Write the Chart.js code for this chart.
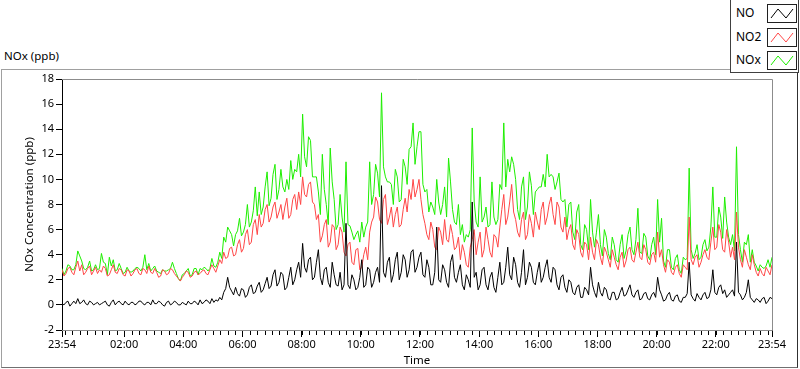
<!DOCTYPE html>
<html>
<head>
<meta charset="utf-8">
<script src="https://cdn.jsdelivr.net/npm/chart.js@4.4.1/dist/chart.umd.min.js"></script>
<style>
  body { margin: 0; background: #fff; }
  #wrap { position: relative; width: 800px; height: 369px; overflow: hidden; font-family: "Noto Sans", sans-serif; color: #000; }
  #frame { position: absolute; left: 1px; top: 69px; width: 795px; height: 297px; border: 1px solid #a0a0a0; border-right-color: #303030; border-bottom-color: #707070; }
  #title { position: absolute; left: 4px; top: 48px; font-size: 11.5px; }
  #chart { position: absolute; left: 0; top: 0; }
  #legend { position: absolute; left: 730px; top: -1px; width: 67px; height: 72px; border: 1px solid #404040; background: #fff; font-size: 12px; }
  .row { position: absolute; left: 5px; height: 18px; line-height: 18px; }
  .row svg { position: absolute; left: 31px; top: 0; }
</style>
</head>
<body>
<div id="wrap">
  <div id="frame"></div>
  <div id="title">NOx (ppb)</div>
  <canvas id="chart" width="800" height="369"></canvas>
  <div id="legend"></div>
</div>
<script>
// samples every 4 minutes starting at 23:54
const SAMPLE_STEP = 4;

const NO = [
  0.1,0.0, 0.2,0.3, -0.1,0.1, 0.3,0.1, 0.5,0.1, 0.2,0.4, 0.1,0.0, 0.3,0.2, 0.0,0.1, 0.2,0.0,
  0.1,0.2, 0.3,0.0, -0.1,0.2, 0.4,0.0, 0.2,0.3, 0.1,0.0, 0.3,0.1, 0.0,0.2, 0.2,0.0, 0.1,0.3,
  0.3,0.1, 0.0,0.2, 0.2,0.0, 0.4,0.1, 0.1,0.3, 0.2,0.0, -0.1,0.2, 0.3,0.0, 0.1,0.3, 0.2,0.0,
  0.0,0.2, 0.1,0.0, 0.3,0.1, 0.1,0.3, 0.2,0.0, 0.4,0.1, 0.2,0.4, 0.3,0.1, 0.5,0.2, 0.4,0.3,
  0.6,0.4, 1.0,1.3, 2.2,1.4, 1.1,0.8, 1.4,0.9, 0.7,1.3, 1.2,0.6, 0.8,1.4, 1.6,0.9, 1.0,1.5,
  1.8,1.0, 1.2,1.7, 2.2,1.3, 1.5,2.4, 2.8,1.5, 1.8,2.6, 2.4,1.2, 1.4,2.2, 3.0,1.6, 2.0,2.8,
  3.4,2.2, 4.9,3.0, 2.6,3.6, 3.8,2.0, 2.2,3.4, 4.4,2.2, 1.6,2.8, 3.0,1.8, 1.4,3.4, 2.4,1.6,
  1.5,2.6, 1.2,1.6, 6.5,1.6, 1.3,2.4, 2.0,1.2, 1.4,2.2, 3.6,1.4, 1.6,3.0, 2.8,1.4, 1.8,2.6,
  3.0,1.8, 9.5,2.6, 2.2,3.4, 3.8,1.8, 2.4,3.6, 4.2,2.0, 2.6,4.0, 3.6,2.2, 2.8,4.2, 4.4,2.6,
  3.0,3.8, 4.2,2.4, 2.2,3.6, 3.0,1.6, 1.6,2.6, 6.2,2.0, 1.8,3.2, 2.8,1.8, 1.4,3.4, 4.0,2.2,
  1.8,2.6, 3.2,1.6, 1.2,2.4, 2.0,1.4, 8.2,2.2, 2.6,1.2, 1.6,2.8, 3.0,1.6, 1.2,2.2, 2.6,1.4,
  1.0,2.2, 3.4,1.6, 1.8,3.0, 4.6,2.4, 2.0,3.8, 3.2,1.8, 1.4,2.6, 4.4,1.6, 2.2,3.4, 3.0,1.8,
  1.6,2.6, 3.4,1.8, 2.2,3.0, 3.6,2.2, 1.8,3.0, 2.8,1.6, 1.2,2.2, 2.4,1.4, 1.0,2.0, 1.8,1.0,
  0.8,1.4, 1.6,0.6, 0.6,1.4, 1.2,0.8, 3.0,1.6, 1.0,0.6, 1.8,1.0, 0.7,1.4, 1.2,0.5, 0.4,1.0,
  1.0,0.4, 0.5,1.0, 1.4,0.7, 0.8,1.2, 1.6,0.8, 0.6,1.0, 1.2,0.4, 0.5,0.9, 1.0,0.5, 0.4,0.8,
  1.0,0.6, 2.2,1.2, 0.8,0.3, 0.4,0.8, 1.0,0.4, 0.3,0.7, 0.8,0.3, 0.2,0.6, 0.6,0.9, 3.4,0.8,
  0.5,0.3, 0.9,0.6, 0.4,0.8, 1.0,0.5, 0.6,1.2, 2.8,1.0, 0.8,1.4, 1.6,0.9, 1.2,0.6, 0.8,1.0,
  1.2,0.7, 5.0,1.0, 0.8,0.4, 0.6,1.0, 2.0,0.6, 0.4,0.2, 0.5,0.4, 0.2,0.5, 0.6,0.1, 0.3,0.6, 0.5
];

const NO2 = [
  2.8,2.3, 2.5,2.9, 3.0,2.6, 2.4,3.0, 3.5,2.7, 3.2,2.4, 2.6,2.9, 3.1,2.4, 2.7,3.0, 2.5,2.8,
  2.6,3.1, 2.9,2.3, 2.4,2.8, 3.2,2.6, 2.5,2.9, 2.8,2.4, 2.3,2.8, 2.7,2.3, 2.5,2.8, 2.9,2.5,
  2.4,2.9, 2.8,2.5, 3.1,2.6, 2.5,2.9, 2.6,2.2, 2.3,2.8, 2.7,2.4, 2.5,2.9, 2.8,2.5, 2.3,2.1,
  1.9,2.2, 2.4,2.7, 2.6,2.2, 2.3,2.6, 2.7,2.4, 2.5,2.7, 2.8,2.5, 2.4,2.8, 3.2,2.9, 2.6,3.1,
  3.6,3.3, 4.2,3.7, 3.8,4.5, 4.6,3.9, 4.0,4.8, 5.2,4.2, 4.5,5.6, 6.0,4.8, 5.0,6.4, 6.8,5.6,
  7.2,6.2, 6.5,7.6, 8.0,6.6, 7.0,7.8, 8.2,6.9, 7.4,8.0, 6.8,7.8, 8.5,6.9, 7.2,8.4, 8.8,7.6,
  9.0,8.0, 10.2,8.8, 8.6,9.6, 9.8,8.2, 8.0,6.8, 7.2,5.0, 5.5,6.4, 6.8,4.6, 5.0,6.4, 6.2,4.4,
  4.8,6.2, 5.8,4.2, 3.9,4.8, 5.0,3.4, 3.2,4.4, 4.5,2.8, 3.0,4.0, 4.6,3.6, 5.8,6.6, 7.0,8.6,
  8.2,6.8, 6.5,8.4, 8.8,6.4, 7.0,7.8, 6.2,7.2, 7.8,6.2, 6.4,7.6, 8.5,7.4, 9.2,8.4, 10.0,8.6,
  9.2,10.0, 8.4,7.2, 6.5,5.6, 5.2,6.6, 6.0,4.6, 4.4,6.2, 5.8,4.8, 6.8,5.2, 5.0,6.4, 5.6,4.4,
  4.6,5.4, 3.6,4.8, 4.2,3.2, 3.0,4.6, 5.2,6.0, 4.0,5.0, 5.8,3.8, 4.4,6.2, 5.2,4.2, 3.8,5.6,
  5.4,4.6, 6.2,7.6, 8.8,6.4, 7.0,8.2, 9.6,7.4, 6.8,5.8, 5.4,6.8, 7.4,5.2, 5.6,7.2, 6.5,5.4,
  7.4,6.6, 6.0,7.6, 8.2,6.4, 7.0,8.0, 8.6,7.2, 6.4,8.2, 7.8,6.2, 5.8,7.0, 5.2,6.0, 6.4,4.8,
  4.4,6.0, 5.6,4.2, 3.8,5.0, 4.8,3.6, 5.4,4.2, 3.6,5.2, 4.8,3.8, 3.2,4.6, 4.2,3.6, 3.0,4.4,
  3.8,3.2, 2.8,3.8, 4.2,3.0, 3.5,4.4, 4.6,3.6, 3.4,4.2, 5.0,3.8, 3.6,4.8, 4.4,3.4, 3.2,4.0,
  4.2,3.4, 5.8,3.8, 4.4,3.2, 2.6,3.6, 3.4,2.6, 2.4,3.0, 3.2,2.5, 2.2,3.2, 3.0,2.8, 7.0,3.6,
  3.2,3.8, 4.0,3.0, 3.4,4.0, 4.4,3.8, 3.6,5.0, 6.2,4.4, 4.6,6.4, 5.8,4.4, 4.2,6.0, 5.0,3.8,
  4.6,3.6, 7.4,4.6, 3.6,3.0, 4.4,3.8, 3.2,2.8, 4.0,3.2, 2.6,2.3, 2.9,2.5, 2.3,3.0, 2.7,2.4, 3.2
];

const NOX = [
  2.9,2.4, 2.7,3.2, 3.1,2.8, 2.8,3.2, 4.3,3.9, 3.5,2.9, 2.8,3.0, 3.5,2.7, 2.8,3.2, 2.8,2.9,
  4.1,3.4, 3.3,2.4, 3.8,3.1, 3.6,2.7, 2.8,3.3, 2.9,2.5, 2.6,3.0, 2.7,2.6, 2.7,2.9, 3.0,2.9,
  2.7,3.0, 4.0,2.8, 3.3,2.7, 2.9,3.1, 2.7,2.6, 2.5,2.8, 2.7,2.7, 2.8,2.9, 3.4,2.9, 2.5,2.1,
  1.9,2.4, 2.5,2.7, 2.9,2.3, 2.4,2.9, 2.9,2.4, 2.9,2.8, 3.0,2.9, 2.7,2.9, 3.7,3.1, 3.0,3.4,
  4.2,3.7, 5.4,5.0, 6.2,5.9, 5.6,4.7, 5.6,5.9, 6.9,5.5, 5.8,6.4, 8.0,6.2, 6.6,7.5, 9.4,7.1,
  9.0,7.2, 7.8,9.4, 10.6,7.9, 8.5,10.4, 11.2,8.4, 9.2,10.8, 9.4,9.0, 10.0,9.2, 11.5,10.0, 10.8,10.6,
  12.0,10.2, 15.2,11.8, 11.0,13.4, 13.1,10.2, 10.2,10.2, 9.0,7.2, 12.0,9.2, 8.0,6.4, 12.5,9.8, 8.4,6.0,
  6.4,8.8, 7.0,5.8, 11.4,6.4, 6.3,5.8, 5.2,5.6, 5.9,5.0, 6.6,5.4, 6.2,6.6, 11.4,8.0, 8.8,11.2,
  10.5,8.6, 16.9,11.0, 10.2,9.8, 9.8,9.6, 8.0,10.8, 10.2,8.2, 8.4,11.6, 11.0,9.6, 12.4,12.6, 14.5,11.2,
  12.6,13.8, 13.8,9.6, 9.0,9.2, 7.4,8.2, 7.8,7.2, 10.0,8.2, 7.2,8.0, 9.4,7.0, 11.7,9.8, 7.6,6.6,
  6.4,8.0, 5.6,6.4, 5.0,5.6, 5.4,6.0, 14.1,8.2, 6.6,6.2, 10.2,6.6, 7.0,7.8, 6.2,6.4, 9.8,7.0,
  6.4,6.8, 9.6,9.2, 14.5,9.4, 11.6,10.6, 11.8,11.2, 10.0,7.6, 6.8,9.4, 10.2,6.8, 7.8,10.6, 9.5,7.2,
  9.0,9.2, 9.4,9.4, 10.4,9.4, 12.0,10.2, 10.4,10.2, 9.2,9.8, 10.5,8.4, 8.2,8.4, 6.2,8.0, 8.2,5.8,
  5.2,7.4, 8.0,4.8, 4.4,6.4, 6.0,4.4, 8.4,5.8, 4.6,5.8, 7.2,4.8, 3.9,6.0, 5.4,4.1, 3.6,5.4,
  4.8,3.6, 3.4,4.8, 5.6,3.7, 4.3,5.6, 6.2,4.4, 4.0,5.2, 7.7,4.2, 4.1,5.7, 5.4,3.9, 3.6,4.8,
  5.4,4.0, 8.4,5.0, 6.9,3.5, 3.0,4.4, 4.4,3.0, 2.8,3.7, 4.0,2.8, 2.5,3.8, 3.6,3.7, 10.9,4.4,
  3.7,4.1, 4.8,3.6, 3.8,4.8, 5.2,4.3, 4.6,6.2, 9.4,5.4, 5.4,7.8, 7.0,5.3, 8.6,6.6, 5.4,4.8,
  5.6,4.3, 12.6,5.6, 4.4,3.4, 5.0,4.8, 5.6,3.4, 4.4,3.4, 3.1,2.7, 3.2,3.0, 2.9,3.1, 3.6,3.0, 3.8
];

// x axis: minutes after 23:54
const TICK_MINUTES = [0, 126, 246, 366, 486, 606, 726, 846, 966, 1086, 1206, 1326, 1440];
const TICK_LABELS = ['23:54', '02:00', '04:00', '06:00', '08:00', '10:00', '12:00',
                     '14:00', '16:00', '18:00', '20:00', '22:00', '23:54'];
const MINOR_FIRST = 6;   // 00:00
const MINOR_STEP = 15;   // quarter hours

const SERIES = [
  {name: 'NO', values: NO, color: '#000000'},
  {name: 'NO2', values: NO2, color: '#ff4646'},
  {name: 'NOx', values: NOX, color: '#1eee00'}
];

const toPoints = (arr) => arr.map((v, i) => ({x: i * SAMPLE_STEP, y: v}));

const tickFont = {family: '"Noto Sans", sans-serif', size: 11};

// minor ticks on the time axis + top/right frame of the plot
const plotFrame = {
  id: 'plotFrame',
  afterDraw(chart) {
    const {ctx, chartArea: a} = chart;
    const x = chart.scales.x;
    ctx.save();
    ctx.lineWidth = 1;
    ctx.strokeStyle = '#000';
    ctx.beginPath();
    for (let m = MINOR_FIRST; m < 1440; m += MINOR_STEP) {
      const px = Math.round(x.getPixelForValue(m)) + 0.5;
      ctx.moveTo(px, a.bottom + 1);
      ctx.lineTo(px, a.bottom + 5);
    }
    ctx.stroke();
    ctx.strokeStyle = '#8c8c8c';
    ctx.beginPath();
    ctx.moveTo(a.left, a.top + 0.5);
    ctx.lineTo(a.right + 0.5, a.top + 0.5);
    ctx.lineTo(a.right + 0.5, a.bottom + 0.5);
    ctx.lineTo(a.left, a.bottom + 0.5);
    ctx.stroke();
    ctx.restore();
  }
};

new Chart(document.getElementById('chart'), {
  type: 'line',
  data: {
    datasets: SERIES.map((s) => ({
      label: s.name,
      data: toPoints(s.values),
      borderColor: s.color,
      backgroundColor: s.color,
      borderWidth: 1,
      pointRadius: 0,
      tension: 0,
      fill: false
    }))
  },
  options: {
    responsive: false,
    animation: false,
    layout: {padding: {top: 79, right: 28, left: 0, bottom: 0}},
    plugins: {legend: {display: false}, tooltip: {enabled: false}},
    scales: {
      x: {
        type: 'linear',
        min: 0,
        max: 1440,
        afterBuildTicks: (scale) => {
          scale.ticks = TICK_MINUTES.map((v) => ({value: v}));
        },
        afterFit: (scale) => { scale.height = 39; },
        ticks: {
          autoSkip: false,
          maxRotation: 0,
          color: '#000',
          font: tickFont,
          padding: 1,
          callback: (v, i) => TICK_LABELS[i]
        },
        grid: {drawOnChartArea: false, tickLength: 7, color: '#000'},
        border: {display: false},
        title: {display: true, text: 'Time', color: '#000', font: {family: '"Noto Sans", sans-serif', size: 11.5}, padding: {top: 0, bottom: 1}}
      },
      y: {
        min: -2,
        max: 18,
        afterFit: (scale) => { scale.width = 62; },
        ticks: {stepSize: 2, color: '#000', font: tickFont, padding: 2},
        grid: {drawOnChartArea: false, tickLength: 6, color: '#000'},
        border: {display: true, color: '#000', width: 1},
        title: {display: true, text: 'NOx Concentration (ppb)', color: '#000', font: {family: '"Noto Sans", sans-serif', size: 11.5}, padding: {top: 23, bottom: 0}}
      }
    }
  },
  plugins: [plotFrame]
});

// legend with a small zig-zag sample per series
const legend = document.getElementById('legend');
SERIES.forEach((s, i) => {
  const row = document.createElement('div');
  row.className = 'row';
  row.style.top = (4 + i * 23.5) + 'px';
  row.innerHTML = '<span>' + s.name + '</span>' +
    '<svg width="30" height="19"><rect x="0.5" y="0.5" width="29" height="18" fill="#fff" stroke="#202020"/>' +
    '<polyline points="4,14 11,5 19,14 26,5" fill="none" stroke="' + s.color + '" stroke-width="1"/></svg>';
  legend.appendChild(row);
});
</script>
</body>
</html>
